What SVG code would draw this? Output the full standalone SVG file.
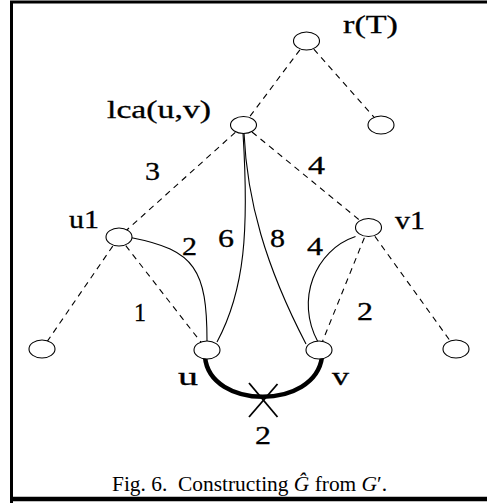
<svg xmlns="http://www.w3.org/2000/svg" width="487" height="503" viewBox="0 0 487 503">
<style>
.node{fill:#fff;stroke:#000;stroke-width:1.1}
.dash{stroke:#000;stroke-width:1.1;stroke-dasharray:6 5;fill:none}
.solid{stroke:#000;stroke-width:1.1;fill:none}
.lbl{font-family:"Liberation Serif","Times New Roman",serif;font-size:25px;fill:#000;stroke:#000;stroke-width:0.3}
.cap{font-family:"Liberation Serif","Times New Roman",serif;font-size:21.4px;fill:#000}
</style>
<rect x="0" y="0" width="487" height="503" fill="#fff"/>
<path d="M11.5 503 V2 H490" fill="none" stroke="#000" stroke-width="3"/>
<line x1="10" y1="499" x2="490" y2="499" stroke="#000" stroke-width="4.5"/>
<g id="connectors">
  <line class="dash" x1="306.5" y1="41" x2="243.5" y2="125"/>
  <line class="dash" x1="306.5" y1="41" x2="381" y2="125"/>
  <line class="dash" x1="243.5" y1="125" x2="119" y2="237"/>
  <line class="dash" x1="243.5" y1="125" x2="368.5" y2="227.5"/>
  <line class="dash" x1="119" y1="237" x2="42" y2="349"/>
  <line class="dash" x1="119" y1="237" x2="207" y2="350"/>
  <line class="dash" x1="368.5" y1="227.5" x2="319" y2="350"/>
  <line class="dash" x1="368.5" y1="227.5" x2="456" y2="349"/>
  <path class="solid" d="M243 133 C249 230 245 290 217 342"/>
  <path class="solid" d="M244 133 C247 200 265 265 306 344"/>
  <path class="solid" d="M131.7 237.7 C195 250 207 270 207 341"/>
  <path class="solid" d="M355.5 236.5 C315 250 295 300 318 342"/>
  <path d="M205 357 C210 410 315 410 322 357" fill="none" stroke="#000" stroke-width="4.5"/>
  <line x1="249" y1="383" x2="277.5" y2="417" stroke="#000" stroke-width="1.8"/>
  <line x1="277.5" y1="384" x2="249" y2="417" stroke="#000" stroke-width="1.8"/>
</g>
<g id="root"><ellipse class="node" cx="306.5" cy="41" rx="13" ry="9"/><text class="lbl" x="343" y="33" textLength="55" lengthAdjust="spacingAndGlyphs">r(T)</text></g>
<g id="rchild"><ellipse class="node" cx="381" cy="125" rx="13" ry="9"/></g>
<g id="lca"><ellipse class="node" cx="243.5" cy="125" rx="13" ry="8.5"/><text class="lbl" x="107" y="118" textLength="104" lengthAdjust="spacingAndGlyphs">lca(u,v)</text></g>
<g id="u1"><ellipse class="node" cx="119" cy="237" rx="13" ry="9"/><text class="lbl" x="69" y="227.5" textLength="30" lengthAdjust="spacingAndGlyphs">u1</text></g>
<g id="v1"><ellipse class="node" cx="368.5" cy="227.5" rx="13" ry="9"/><text class="lbl" x="395" y="228.5" textLength="30" lengthAdjust="spacingAndGlyphs">v1</text></g>
<g id="leafL"><ellipse class="node" cx="42" cy="349" rx="13" ry="9"/></g>
<g id="u"><ellipse class="node" cx="207" cy="350" rx="13" ry="9"/><text class="lbl" x="178" y="385" textLength="20" lengthAdjust="spacingAndGlyphs">u</text></g>
<g id="v"><ellipse class="node" cx="319" cy="350" rx="13" ry="9"/><text class="lbl" x="332" y="385" textLength="17" lengthAdjust="spacingAndGlyphs">v</text></g>
<g id="leafR"><ellipse class="node" cx="456" cy="349" rx="13" ry="9"/></g>
<g id="labels">
  <text class="lbl" x="145" y="180" textLength="15" lengthAdjust="spacingAndGlyphs">3</text>
  <text class="lbl" x="308" y="174" textLength="17" lengthAdjust="spacingAndGlyphs">4</text>
  <text class="lbl" x="182" y="255" textLength="15" lengthAdjust="spacingAndGlyphs">2</text>
  <text class="lbl" x="218" y="247" textLength="16" lengthAdjust="spacingAndGlyphs">6</text>
  <text class="lbl" x="270" y="247" textLength="15" lengthAdjust="spacingAndGlyphs">8</text>
  <text class="lbl" x="307" y="255" textLength="16" lengthAdjust="spacingAndGlyphs">4</text>
  <text class="lbl" x="134" y="320.5" textLength="12" lengthAdjust="spacingAndGlyphs">1</text>
  <text class="lbl" x="357" y="320" textLength="16" lengthAdjust="spacingAndGlyphs">2</text>
  <text class="lbl" x="255" y="444" textLength="16" lengthAdjust="spacingAndGlyphs">2</text>
</g>
<text class="cap" x="112" y="491" xml:space="preserve">Fig. 6.  Constructing <tspan font-style="italic">Ĝ</tspan> from <tspan font-style="italic">G</tspan>′.</text>
</svg>
